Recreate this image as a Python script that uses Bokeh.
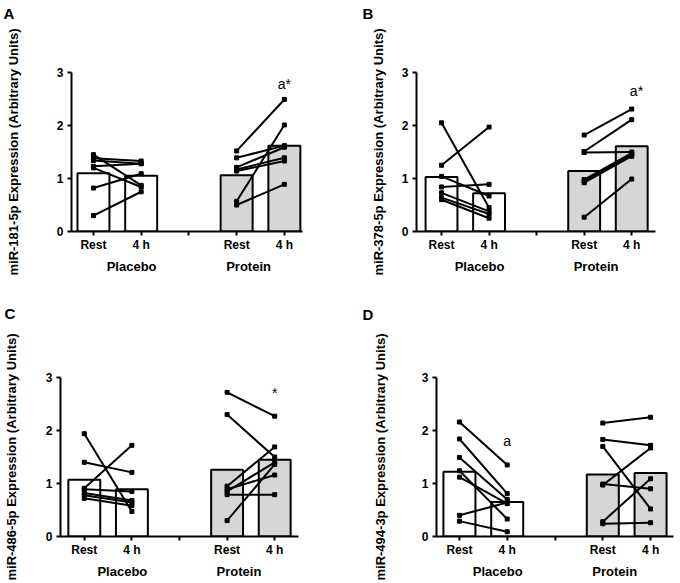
from bokeh.plotting import figure
from bokeh.models import LinearAxis, FixedTicker, Range1d
from bokeh.layouts import column, row
from bokeh.embed import file_html
from bokeh.resources import INLINE
from bokeh.core.properties import value

groups = ["Placebo", "Protein"]
times = ["Rest", "4 h"]
bar_colors = ["#ffffff", "#d6d6d6"]

# Panel A: miR-181-5p
a_label = "miR-181-5p Expression (Arbitrary Units)"
a_placebo_rest = [1.45, 1.38, 1.34, 1.23, 1.20, 0.82, 0.30]
a_placebo_4h = [0.87, 1.33, 1.28, 1.28, 0.84, 1.09, 0.75]
a_protein_rest = [1.52, 1.39, 1.21, 1.17, 1.14, 0.57, 0.50]
a_protein_4h = [2.49, 1.62, 1.59, 1.39, 1.33, 2.01, 0.89]
a_means = [1.10, 1.05, 1.06, 1.62]
a_note = ("a*", 4.0, 2.78)

# Panel B: miR-378-5p
b_label = "miR-378-5p Expression (Arbitrary Units)"
b_placebo_rest = [2.05, 1.25, 1.04, 0.84, 0.73, 0.64, 0.60]
b_placebo_4h = [0.45, 1.97, 0.67, 0.89, 0.38, 0.33, 0.25]
b_protein_rest = [1.82, 1.51, 1.49, 0.98, 0.95, 0.92, 0.27]
b_protein_4h = [2.31, 2.11, 1.50, 1.48, 1.45, 1.42, 0.99]
b_means = [1.03, 0.72, 1.14, 1.61]
b_note = ("a*", 4.1, 2.66)

# Panel C: miR-486-5p
c_label = "miR-486-5p Expression (Arbitrary Units)"
c_placebo_rest = [1.94, 1.40, 0.91, 0.89, 0.82, 0.78, 0.72]
c_placebo_4h = [0.47, 1.21, 1.72, 0.85, 0.68, 0.64, 0.58]
c_protein_rest = [2.72, 2.30, 0.95, 0.89, 0.85, 0.79, 0.30]
c_protein_4h = [2.27, 1.50, 1.69, 1.16, 1.40, 0.79, 1.36]
c_means = [1.07, 0.89, 1.26, 1.45]
c_note = ("*", 4.0, 2.71)

# Panel D: miR-494-3p
d_label = "miR-494-3p Expression (Arbitrary Units)"
d_placebo_rest = [2.16, 1.84, 1.49, 1.24, 1.12, 0.40, 0.29]
d_placebo_4h = [1.35, 0.81, 0.70, 0.33, 0.62, 0.64, 0.09]
d_protein_rest = [2.14, 1.83, 1.70, 0.99, 0.97, 0.28, 0.24]
d_protein_4h = [2.25, 1.72, 0.52, 0.90, 1.67, 1.09, 0.26]
d_means = [1.22, 0.65, 1.17, 1.20]
d_note = ("a", 1.0, 1.81)

y_ticks = [0, 1, 2, 3]
FONT = "Liberation Sans"


def pos(g, t):
    return g * 3 + t


def style_axis(ax):
    ax.axis_line_width = 2
    ax.axis_line_color = "black"
    ax.major_tick_line_width = 2
    ax.major_tick_line_color = "black"
    ax.major_tick_out = 4
    ax.major_tick_in = 0
    ax.minor_tick_line_color = None
    ax.major_label_text_font = FONT
    ax.major_label_text_font_style = "bold"
    ax.major_label_text_font_size = "12px"
    ax.major_label_text_color = "black"


def make_panel(letter, letter_x, ylabel, pr, ph, qr, qh, means, note,
               W, H, left, right, top, bottom, xr, label_standoff, t_standoff):
    p = figure(width=W, height=H, x_range=Range1d(*xr), y_range=Range1d(0, 3),
               toolbar_location=None, output_backend="svg",
               min_border_left=left, min_border_right=right,
               min_border_top=top, min_border_bottom=bottom)
    p.outline_line_color = None
    p.xgrid.visible = False
    p.ygrid.visible = False
    p.background_fill_color = "white"
    p.border_fill_color = "white"

    bx = [pos(g, t) for g in range(len(groups)) for t in range(len(times))]
    bc = [bar_colors[g] for g in range(len(groups)) for t in range(len(times))]
    p.vbar(x=bx, top=means, bottom=0, width=0.67, fill_color=bc,
           line_color="black", line_width=2)

    xs, ys = [], []
    for g, (rest, h4) in enumerate([(pr, ph), (qr, qh)]):
        for r, h in zip(rest, h4):
            xs.append([pos(g, 0), pos(g, 1)])
            ys.append([r, h])
    p.multi_line(xs=xs, ys=ys, line_color="black", line_width=2)
    px = [x for pair in xs for x in pair]
    py = [y for pair in ys for y in pair]
    p.scatter(px, py, marker="square", size=4, fill_color="black", line_color="black")

    p.text(x=[note[1]], y=[note[2]], text=[note[0]], text_font=value(FONT),
           text_font_size="14px", text_align="center", text_baseline="middle",
           text_color="black")

    xa = p.xaxis[0]
    xa.ticker = FixedTicker(ticks=[0, 1, 2, 3, 4], minor_ticks=[])
    xa.major_label_overrides = {0: "Rest", 1: "4 h", 2: "", 3: "Rest", 4: "4 h"}
    style_axis(xa)
    xa.major_label_standoff = 2

    ga = LinearAxis(ticker=FixedTicker(ticks=[0.8, 3.25], minor_ticks=[]),
                    major_label_overrides={0.8: groups[0], 3.25: groups[1]})
    style_axis(ga)
    ga.axis_line_color = None
    ga.major_tick_line_color = None
    ga.major_tick_out = 0
    ga.major_label_text_font_size = "13px"
    ga.major_label_standoff = 4
    p.add_layout(ga, "below")

    ya = p.yaxis[0]
    ya.ticker = FixedTicker(ticks=y_ticks, minor_ticks=[])
    style_axis(ya)
    ya.major_label_standoff = 4
    ya.axis_label = ylabel
    ya.axis_label_text_font = FONT
    ya.axis_label_text_font_style = "bold"
    ya.axis_label_text_font_size = "13px"
    ya.axis_label_text_color = "black"
    ya.axis_label_standoff = label_standoff

    # panel letter: first line of a multi-line title so it sits near the top edge
    p.title.text = letter + "\n\n\n"
    p.title.text_font = FONT
    p.title.text_font_style = "bold"
    p.title.text_font_size = "15px"
    p.title.text_line_height = 1.0
    p.title.text_color = "black"
    p.title.align = "left"
    p.title.offset = letter_x - left
    p.title.standoff = t_standoff
    return p


H1, H2, W = 290, 293, 340
pA = make_panel("A", 3, a_label, a_placebo_rest, a_placebo_4h, a_protein_rest,
                a_protein_4h, a_means, a_note, W, H1, 71, 38, 72, 59, (-0.46, 4.38), 33, 0)
pB = make_panel("B", 22, b_label, b_placebo_rest, b_placebo_4h, b_protein_rest,
                b_protein_4h, b_means, b_note, W, H1, 76, 25, 72, 59, (-0.526, 4.5), 13, 0)
pC = make_panel("C", 3, c_label, c_placebo_rest, c_placebo_4h, c_protein_rest,
                c_protein_4h, c_means, c_note, W, H2, 59, 42, 87, 47, (-0.50, 4.50), 24, 9)
pD = make_panel("D", 22, d_label, d_placebo_rest, d_placebo_4h, d_protein_rest,
                d_protein_4h, d_means, d_note, W, H2, 96, 7, 87, 47, (-0.48, 4.48), 31, 7)

layout = column(row(pA, pB), row(pC, pD))
open("out.html", "w").write(file_html(layout, INLINE))
